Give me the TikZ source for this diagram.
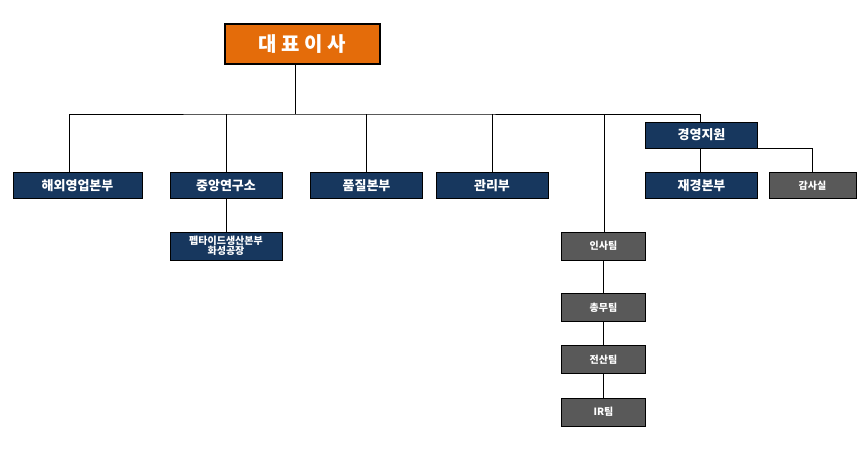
\documentclass[tikz,border=0pt]{standalone}
\usepackage{fontspec}
\setmainfont{Noto Sans CJK KR}
\usetikzlibrary{positioning}
\definecolor{navy}{HTML}{17375E}
\definecolor{ceo}{HTML}{E46C0A}
\definecolor{team}{HTML}{595959}
\tikzset{
  unit/.style={fill=navy, draw=black, line width=0.6pt, text=white, font=\fontsize{13}{15}\selectfont\bfseries, minimum width=112pt, minimum height=26pt, inner sep=0pt},
  teambox/.style={unit, fill=team, font=\fontsize{10}{12}\selectfont\bfseries, minimum width=84pt, minimum height=28pt},
  link/.style={black, line width=0.7pt}
}
\begin{document}
\begin{tikzpicture}[x=1pt, y=-1pt]
\useasboundingbox (0,0) rectangle (866,448);
% top
\node[unit, fill=ceo, line width=1.4pt, minimum width=155pt, minimum height=40pt, font=\fontsize{20}{22}\selectfont\bfseries] (ceo) at (302.5,44) {대 표 이 사};
% row of divisions
\node[unit, minimum width=129pt] (sales) at (77.5,185.5) {해외영업본부};
\node[unit] (lab) at (226,185.5) {중앙연구소};
\node[unit] (qual) at (366.5,185.5) {품질본부};
\node[unit] (admin) at (492,185.5) {관리부};
\node[unit] (fin) at (701.5,185.5) {재경본부};
\node[teambox, minimum width=87pt, minimum height=26pt] (audit) at (812.5,185.5) {감사실};
\node[unit] (mgmt) at (701.5,135) {경영지원};
\node[unit, minimum height=28pt, font=\fontsize{10}{12}\selectfont\bfseries, align=center] (plant) at (226,246) {펩타이드생산본부\\[-2pt]화성공장};
% teams
\node[teambox] (hr) at (603.5,246) {인사팀};
\node[teambox] (ga) at (603.5,307.5) {총무팀};
\node[teambox] (it) at (603.5,359.5) {전산팀};
\node[teambox] (ir) at (603.5,412) {IR팀};
% connectors
\coordinate (bus) at (295,114);
\draw[link] (ceo.south -| bus) -- (bus);
\draw[link] (sales.north -| 69,0) |- (bus) -| (mgmt.north -| 700,0);
\draw[link] (lab.north) -- (lab.north |- bus);
\draw[link] (qual.north) -- (qual.north |- bus);
\draw[link] (admin.north) -- (admin.north |- bus);
\draw[link] (hr.north -| 604,0) -- (604,114);
\draw[link, line width=0.4pt] (mgmt.south -| 700,0) -- (fin.north -| 700,0);
\draw[link] (mgmt.south east) -| (audit.north);
\draw[link] (lab.south) -- (plant.north);
\draw[link] (hr) -- (ga);
\draw[link] (ga) -- (it);
\draw[link] (it) -- (ir);
\end{tikzpicture}
\end{document}
